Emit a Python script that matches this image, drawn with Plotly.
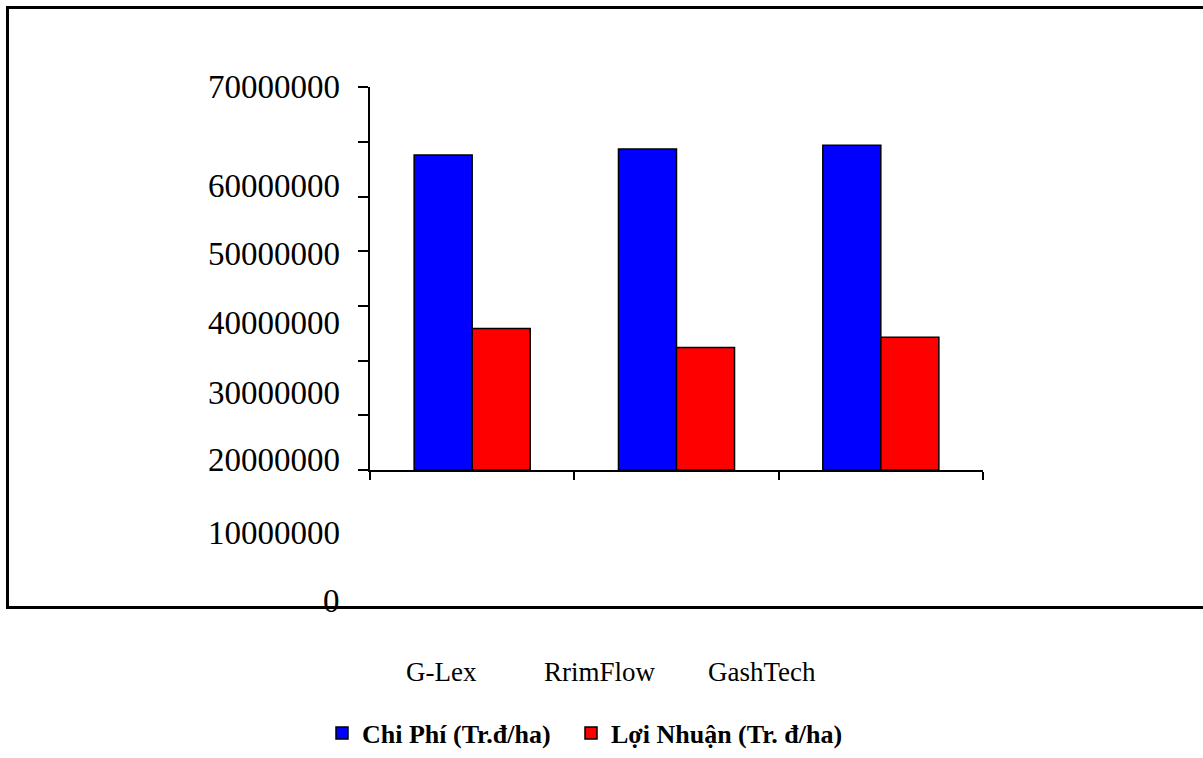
import plotly.graph_objects as go

# --- data ---------------------------------------------------------------
categories = ["G-Lex", "RrimFlow", "GashTech"]
chi_phi = [57600000, 58700000, 59400000]       # Chi Phí (Tr.đ/ha)
loi_nhuan = [25900000, 22400000, 24300000]     # Lợi Nhuận (Tr. đ/ha)
series_names = ["Chi Phí (Tr.đ/ha)", "Lợi Nhuận (Tr. đ/ha)"]
tick_values = [0, 10000000, 20000000, 30000000, 40000000, 50000000, 60000000, 70000000]
tick_labels = ["0", "10000000", "20000000", "30000000", "40000000",
               "50000000", "60000000", "70000000"]

# --- layout helpers (page is 1203 x 758 px, margins are zero) -----------
W, H = 1203, 758


def px_x(x):
    return x / W


def px_y(y):
    return 1 - y / H


# vertical centres of the value labels in page pixels (bottom to top)
label_y_px = [601, 532.5, 460, 393, 323, 254, 186, 87.5]
# horizontal centres of the category names in page pixels
cat_x_px = [441, 600, 762]

FONT = "Liberation Serif, Times New Roman, serif"
LEGEND_FONT = dict(family=FONT, size=26, color="black", weight="bold")

fig = go.Figure()
fig.add_trace(go.Bar(
    x=categories, y=chi_phi, name=series_names[0], legend="legend",
    marker=dict(color="#0000FF", line=dict(color="#000000", width=1.5)),
))
fig.add_trace(go.Bar(
    x=categories, y=loi_nhuan, name=series_names[1], legend="legend2",
    marker=dict(color="#FF0000", line=dict(color="#000000", width=1.5)),
))

fig.update_layout(
    width=W, height=H,
    margin=dict(l=0, r=0, t=0, b=0),
    paper_bgcolor="white", plot_bgcolor="white",
    barmode="group", bargap=0.432, bargroupgap=0,
    font=dict(family=FONT, color="black"),
    showlegend=True,
    legend=dict(
        orientation="h",
        x=px_x(322), xanchor="left",
        y=px_y(733), yanchor="middle",
        font=LEGEND_FONT, bgcolor="rgba(0,0,0,0)",
    ),
    legend2=dict(
        orientation="h",
        x=px_x(571), xanchor="left",
        y=px_y(733), yanchor="middle",
        font=LEGEND_FONT, bgcolor="rgba(0,0,0,0)",
    ),
    xaxis=dict(
        domain=[px_x(370), px_x(983)],
        range=[-0.5, 2.5],
        showline=True, linecolor="black", linewidth=1.5,
        ticks="outside", tickson="boundaries", ticklen=8,
        tickcolor="black", tickwidth=1.5,
        showticklabels=False, showgrid=False, zeroline=False,
        fixedrange=True,
    ),
    yaxis=dict(
        domain=[px_y(470), px_y(87.3)],
        range=[0, 70000000],
        tickvals=tick_values,
        showline=True, linecolor="black", linewidth=1.5,
        ticks="outside", ticklen=10, tickcolor="black", tickwidth=1.5,
        showticklabels=False, showgrid=False, zeroline=False,
        fixedrange=True,
    ),
)

# value labels beside the vertical axis
for text, ypx in zip(tick_labels, label_y_px):
    fig.add_annotation(
        x=px_x(342), y=px_y(ypx), xref="paper", yref="paper",
        text=text, showarrow=False, xanchor="right", yanchor="middle",
        font=dict(family=FONT, size=33, color="black"),
    )

# category names below the chart frame
for cat, xpx in zip(categories, cat_x_px):
    fig.add_annotation(
        x=px_x(xpx), y=px_y(672), xref="paper", yref="paper",
        text=cat, showarrow=False, xanchor="center", yanchor="middle",
        font=dict(family=FONT, size=27, color="black"),
    )

# open frame: top, left and bottom edges
fig.add_shape(
    type="path", xref="paper", yref="paper",
    path=(f"M {px_x(1203)} {px_y(7.5)} L {px_x(7.5)} {px_y(7.5)} "
          f"L {px_x(7.5)} {px_y(607.5)} L {px_x(1203)} {px_y(607.5)}"),
    line=dict(color="black", width=3),
    layer="above",
)

fig.write_html("out.html")
